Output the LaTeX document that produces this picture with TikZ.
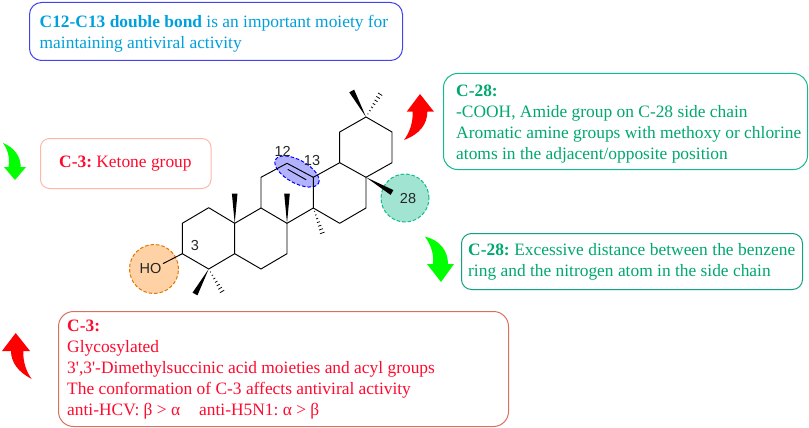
\documentclass[tikz,border=0pt]{standalone}
\usepackage{fontspec}
\newfontfamily\plainserif{Liberation Serif}
\newfontfamily\molfont{Liberation Sans}
\usetikzlibrary{calc,shapes.geometric}
\definecolor{cblue}{HTML}{00A0DC}
\definecolor{bblue}{HTML}{4444EE}
\definecolor{cred}{HTML}{FF0A2E}
\definecolor{bpink}{HTML}{FFB8A8}
\definecolor{bred}{HTML}{D9705F}
\definecolor{cgreen}{HTML}{00A86E}
\definecolor{bgreen}{HTML}{12BC8C}
\definecolor{bgreenb}{HTML}{12A080}
\tikzset{
  infobox/.style={draw,rounded corners=12pt,line width=1pt,anchor=north west,inner sep=0pt},
  infotext/.style={anchor=west,inner sep=0pt,align=left,font=\plainserif\frenchspacing\fontsize{17.4}{21}\selectfont},
  bond/.style={line width=0.95pt,black,line cap=round,line join=round},
  marker/.style={draw,dash pattern=on 3.5pt off 2pt,line width=1pt,inner sep=0pt},
  molabel/.style={font=\molfont\fontsize{14.5}{16}\selectfont,inner sep=0pt,text=black!85},
}
\newcommand{\wedgebond}[2]{\fill[black] (#1) -- ($(#2)!2.8pt!90:(#1)$) -- ($(#2)!2.8pt!-90:(#1)$) -- cycle;}
\newcommand{\hashbond}[2]{\foreach \t/\w in {0.12/0.5,0.25/0.8,0.38/1.1,0.51/1.45,0.64/1.8,0.77/2.1,0.9/2.45,1/2.8}{\draw[line width=0.75pt] ($(#1)!\t!(#2)!\w pt!90:(#2)$) -- ($(#1)!\t!(#2)!\w pt!-90:(#2)$);}}
\begin{document}
\begin{tikzpicture}[x=1pt,y=-1pt]
\useasboundingbox (0,0) rectangle (809,428);
% boxes
\node[infobox,draw=bblue,minimum width=373pt,minimum height=58pt] (topbox) at (29,2) {};
\node[infobox,draw=bpink,rounded corners=9pt,minimum width=170.5pt,minimum height=50pt] (ketone) at (40,138) {};
\node[infobox,draw=bred,rounded corners=15pt,minimum width=450pt,minimum height=115pt] (lower) at (58,311) {};
\node[infobox,draw=bgreen,rounded corners=14pt,minimum width=364pt,minimum height=96pt] (amide) at (443,73) {};
\node[infobox,draw=bgreenb,rounded corners=10pt,minimum width=341pt,minimum height=56pt] (distance) at (461,233) {};
% box texts
\node[infotext,text=cblue] (toptext) at (39.5,33.5) {\textbf{C12-C13 double bond} is an important moiety for\\maintaining antiviral activity};
\node[infotext,text=cred] (ketonetext) at (59,164) {\textbf{C-3:} Ketone group};
\node[infotext,text=cred] (lowertext) at (67,369.5) {\textbf{C-3:}\\Glycosylated\\3',3'-Dimethylsuccinic acid moieties and acyl groups\\The conformation of C-3 affects antiviral activity\\anti-HCV: β > α\hspace{19pt}anti-H5N1: α > β};
\node[infotext,text=cgreen] (amidetext) at (456,124) {\textbf{C-28:}\\-COOH, Amide group on C-28 side chain\\Aromatic amine groups with methoxy or chlorine\\atoms in the adjacent/opposite position};
\node[infotext,text=cgreen] (distancetext) at (468,262) {\makebox[327pt][s]{\textbf{C-28:} Excessive distance between the benzene}\\ring and the nitrogen atom in the side chain};
% markers
\node[marker,circle,draw=orange!90!black,fill=orange!35,minimum size=49pt] (hocirc) at (154,269) {};
\node[marker,circle,draw=bgreen,fill=bgreen!40,minimum size=48pt] (cxxviii) at (405,198) {};
\node[marker,ellipse,draw=blue,fill=blue!30,minimum width=49pt,minimum height=23pt,rotate=-29] (dbl) at (297,171.5) {};
% atoms
\coordinate (a1) at (182.3,223.3);
\coordinate (a2) at (208.7,207.7);
\coordinate (a3) at (234.7,223.3);
\coordinate (a4) at (234.7,253.7);
\coordinate (a5) at (208.7,269);
\coordinate (a6) at (182.3,253.7);
\coordinate (b1) at (261,208);
\coordinate (b2) at (287,223.3);
\coordinate (b3) at (287,253.7);
\coordinate (b4) at (261,269);
\coordinate (c1) at (261,177.3);
\coordinate (c2) at (287,163.3);
\coordinate (c3) at (313.3,177.3);
\coordinate (c4) at (313.3,208);
\coordinate (d1) at (339.7,162.7);
\coordinate (d2) at (366,177.3);
\coordinate (d3) at (366,208);
\coordinate (d4) at (339.7,223.3);
\coordinate (e1) at (339.7,132);
\coordinate (e2) at (366,117);
\coordinate (e3) at (392,132);
\coordinate (e4) at (392,162.7);
\coordinate (oh) at (163.3,263.5);
\coordinate (me4a) at (195,294);
\coordinate (me4b) at (223.5,294);
\coordinate (me10) at (234.7,193.5);
\coordinate (me8) at (287,193.5);
\coordinate (me14) at (323.3,235.7);
\coordinate (me17) at (392,192.5);
\coordinate (me20a) at (351.7,91);
\coordinate (me20b) at (381.7,91.7);
\coordinate (dba) at (288,169.5);
\coordinate (dbb) at (306,179.7);
% bonds
\draw[bond] (a1)--(a2)--(a3)--(a4)--(a5)--(a6)--cycle;
\draw[bond] (a3)--(b1)--(b2)--(b3)--(b4)--(a4);
\draw[bond] (b1)--(c1)--(c2)--(c3)--(c4)--(b2);
\draw[bond] (c3)--(d1)--(d2)--(d3)--(d4)--(c4);
\draw[bond] (d1)--(e1)--(e2)--(e3)--(e4)--(d2);
\draw[bond] (a6)--(oh);
\draw[bond] (dba)--(dbb);
\wedgebond{a5}{me4a}
\hashbond{a5}{me4b}
\wedgebond{a3}{me10}
\wedgebond{b2}{me8}
\hashbond{c4}{me14}
\wedgebond{d2}{me17}
\wedgebond{e2}{me20a}
\hashbond{e2}{me20b}
% labels
\node[molabel] (lbl3) at (195,246) {3};
\node[molabel] (lbl12) at (282.7,151.5) {12};
\node[molabel] (lbl13) at (312,160.7) {13};
\node[molabel] (lblho) at (150.5,269) {HO};
\node[molabel] (lbl28) at (408,198.5) {28};
% block arrows
\fill[green] (3,143) .. controls (15,148) and (20.7,157) .. (20.7,167) -- (26,167) -- (15,180) -- (4,167) -- (8.5,167) .. controls (10,158) and (8,150) .. (3,143) -- cycle;
\fill[green] (425,236.7) .. controls (440,240) and (448,251) .. (448,264) -- (454,264) -- (441,282) -- (427,264) -- (433,264) .. controls (434,254) and (431,245) .. (425,236.7) -- cycle;
\fill[red] (31.7,379) .. controls (18,372) and (11,362) .. (11,351) -- (2,351) -- (15.7,333) -- (30,351) -- (23.3,351) .. controls (23,362) and (26,371) .. (31.7,379) -- cycle;
\fill[red] (404,140) .. controls (420,134) and (427.3,124) .. (427.3,111.7) -- (434,111.7) -- (420,94) -- (406.7,111.7) -- (412.7,111.7) .. controls (413,122) and (410,132) .. (404,140) -- cycle;
\end{tikzpicture}
\end{document}
